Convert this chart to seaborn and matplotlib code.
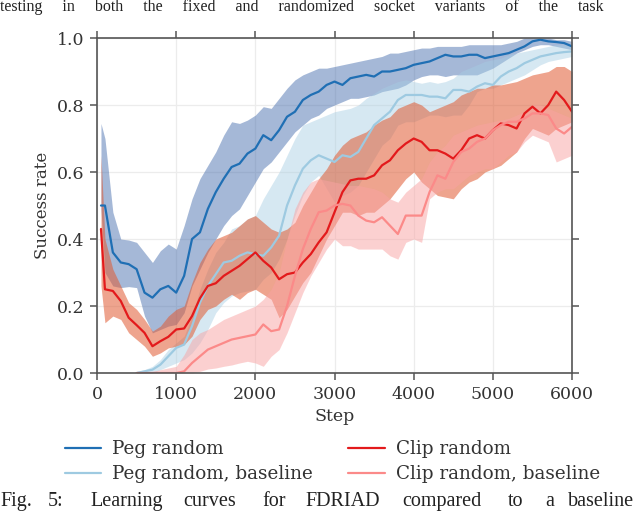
import matplotlib
matplotlib.use("Agg")
import matplotlib.pyplot as plt
import seaborn as sns
import numpy as np
import pandas as pd

nan = np.nan
steps = [50] + list(range(100, 6001, 100))

# Peg random
peg_mean = [0.50, 0.50, 0.36, 0.33, 0.325, 0.31, 0.24, 0.225, 0.25, 0.26, 0.24,
            0.29, 0.40, 0.42, 0.49, 0.54, 0.58, 0.615, 0.625, 0.655, 0.67,
            0.71, 0.695, 0.725, 0.765, 0.78, 0.815, 0.83, 0.84, 0.86, 0.87,
            0.86, 0.88, 0.885, 0.89, 0.885, 0.90, 0.90, 0.905, 0.91, 0.92,
            0.925, 0.93, 0.94, 0.95, 0.945, 0.945, 0.95, 0.95, 0.94, 0.945,
            0.95, 0.955, 0.965, 0.975, 0.99, 0.995, 0.99, 0.988, 0.985, 0.975]
peg_hi = [0.745, 0.70, 0.48, 0.40, 0.397, 0.39, 0.36, 0.33, 0.365, 0.385, 0.37,
          0.44, 0.52, 0.58, 0.62, 0.66, 0.71, 0.75, 0.745, 0.755, 0.77,
          0.795, 0.79, 0.82, 0.85, 0.875, 0.89, 0.90, 0.91, 0.91, 0.915,
          0.92, 0.925, 0.93, 0.935, 0.94, 0.945, 0.955, 0.955, 0.96, 0.965,
          0.97, 0.97, 0.975, 0.975, 0.975, 0.975, 0.98, 0.98, 0.98, 0.98,
          0.98, 0.985, 0.99, 1.0, 1.0, 1.0, 1.0, 0.995, 0.995, 0.99]
peg_lo = [0.49, 0.30, 0.26, 0.255, 0.258, 0.255, 0.17, 0.12, 0.13, 0.14, 0.145,
          0.18, 0.26, 0.31, 0.36, 0.40, 0.44, 0.47, 0.49, 0.53, 0.57,
          0.61, 0.63, 0.66, 0.69, 0.72, 0.74, 0.76, 0.77, 0.79, 0.80,
          0.81, 0.82, 0.82, 0.825, 0.83, 0.84, 0.845, 0.85, 0.86, 0.875,
          0.885, 0.89, 0.89, 0.885, 0.89, 0.89, 0.89, 0.89, 0.90, 0.91,
          0.925, 0.94, 0.955, 0.965, 0.975, 0.98, 0.98, 0.975, 0.97, 0.965]

# Peg random, baseline
pegb_mean = [nan, nan, nan, nan, nan, 0.0, 0.005, 0.01, 0.025, 0.05, 0.075,
             0.085, 0.14, 0.21, 0.26, 0.295, 0.33, 0.335, 0.35, 0.36, 0.355,
             0.35, 0.375, 0.41, 0.50, 0.56, 0.61, 0.635, 0.65, 0.64, 0.63,
             0.65, 0.645, 0.66, 0.70, 0.74, 0.76, 0.78, 0.815, 0.83, 0.83,
             0.83, 0.825, 0.825, 0.82, 0.845, 0.845, 0.84, 0.855, 0.865, 0.86,
             0.885, 0.90, 0.91, 0.925, 0.935, 0.945, 0.95, 0.955, 0.958, 0.96]
pegb_hi = [nan, nan, nan, nan, nan, 0.005, 0.01, 0.02, 0.04, 0.07, 0.09,
           0.11, 0.17, 0.25, 0.31, 0.36, 0.39, 0.43, 0.44, 0.46, 0.47,
           0.52, 0.56, 0.60, 0.65, 0.70, 0.74, 0.75, 0.76, 0.77, 0.78,
           0.785, 0.79, 0.80, 0.82, 0.835, 0.85, 0.86, 0.87, 0.875, 0.87,
           0.865, 0.87, 0.865, 0.87, 0.88, 0.90, 0.91, 0.92, 0.93, 0.935,
           0.94, 0.95, 0.955, 0.96, 0.965, 0.97, 0.975, 0.98, 0.98, 0.98]
pegb_lo = [nan, nan, nan, nan, nan, 0.0, 0.0, 0.0, 0.01, 0.02, 0.03,
           0.04, 0.06, 0.09, 0.13, 0.18, 0.21, 0.23, 0.24, 0.245, 0.25,
           0.28, 0.30, 0.34, 0.40, 0.47, 0.53, 0.57, 0.59, 0.55, 0.51,
           0.53, 0.54, 0.56, 0.60, 0.64, 0.68, 0.70, 0.74, 0.75, 0.75,
           0.76, 0.77, 0.77, 0.765, 0.77, 0.77, 0.80, 0.84, 0.85, 0.85,
           0.86, 0.87, 0.88, 0.89, 0.905, 0.92, 0.93, 0.935, 0.94, 0.945]

# Clip random
clip_mean = [0.43, 0.25, 0.245, 0.215, 0.165, 0.143, 0.12, 0.08, 0.095, 0.108, 0.13,
             0.133, 0.17, 0.223, 0.26, 0.268, 0.29, 0.305, 0.32, 0.34, 0.36,
             0.335, 0.315, 0.28, 0.295, 0.30, 0.33, 0.355, 0.39, 0.42, 0.48,
             0.54, 0.575, 0.58, 0.58, 0.59, 0.62, 0.635, 0.665, 0.685, 0.70,
             0.69, 0.665, 0.665, 0.655, 0.64, 0.665, 0.70, 0.71, 0.70, 0.725,
             0.745, 0.74, 0.73, 0.775, 0.795, 0.775, 0.80, 0.84, 0.815, 0.78]
clip_hi = [0.65, 0.40, 0.31, 0.26, 0.21, 0.19, 0.16, 0.125, 0.14, 0.17, 0.19,
           0.20, 0.27, 0.33, 0.37, 0.40, 0.41, 0.42, 0.44, 0.46, 0.47,
           0.45, 0.43, 0.42, 0.43, 0.45, 0.50, 0.54, 0.58, 0.61, 0.65,
           0.68, 0.70, 0.71, 0.72, 0.74, 0.755, 0.765, 0.79, 0.80, 0.81,
           0.80, 0.78, 0.79, 0.80, 0.81, 0.83, 0.84, 0.85, 0.85, 0.86,
           0.86, 0.865, 0.87, 0.88, 0.89, 0.895, 0.90, 0.915, 0.915, 0.90]
clip_lo = [0.26, 0.15, 0.17, 0.16, 0.12, 0.10, 0.08, 0.05, 0.06, 0.075, 0.08,
           0.085, 0.11, 0.16, 0.19, 0.20, 0.22, 0.235, 0.22, 0.24, 0.25,
           0.235, 0.22, 0.165, 0.19, 0.23, 0.27, 0.30, 0.35, 0.40, 0.44,
           0.48, 0.48, 0.47, 0.48, 0.48, 0.50, 0.52, 0.55, 0.58, 0.60,
           0.57, 0.55, 0.53, 0.525, 0.52, 0.55, 0.57, 0.58, 0.60, 0.61,
           0.62, 0.64, 0.66, 0.70, 0.73, 0.72, 0.71, 0.73, 0.74, 0.75]

# Clip random, baseline
clipb_mean = [nan, nan, nan, nan, nan, 0.0, 0.0, 0.0, 0.0, 0.0, 0.0,
              0.005, 0.03, 0.05, 0.07, 0.08, 0.09, 0.10, 0.105, 0.11, 0.115,
              0.145, 0.125, 0.13, 0.20, 0.29, 0.37, 0.43, 0.48, 0.485, 0.50,
              0.505, 0.50, 0.47, 0.455, 0.45, 0.465, 0.44, 0.415, 0.47, 0.47,
              0.47, 0.54, 0.59, 0.58, 0.63, 0.66, 0.67, 0.69, 0.70, 0.725,
              0.74, 0.75, 0.75, 0.76, 0.775, 0.775, 0.77, 0.73, 0.715, 0.735]
clipb_hi = [nan, nan, nan, nan, nan, 0.005, 0.005, 0.005, 0.01, 0.015, 0.02,
            0.055, 0.10, 0.12, 0.13, 0.145, 0.16, 0.17, 0.18, 0.19, 0.20,
            0.22, 0.25, 0.30, 0.40, 0.49, 0.54, 0.57, 0.58, 0.575, 0.57,
            0.565, 0.56, 0.56, 0.555, 0.55, 0.54, 0.52, 0.51, 0.54, 0.56,
            0.58, 0.63, 0.66, 0.68, 0.71, 0.72, 0.73, 0.74, 0.745, 0.75,
            0.755, 0.76, 0.77, 0.78, 0.80, 0.80, 0.79, 0.78, 0.77, 0.76]
clipb_lo = [nan, nan, nan, nan, nan, 0.0, 0.0, 0.0, 0.0, 0.0, 0.0,
            0.0, 0.0, 0.005, 0.012, 0.015, 0.02, 0.024, 0.03, 0.035, 0.03,
            0.02, 0.05, 0.07, 0.12, 0.18, 0.24, 0.29, 0.33, 0.37, 0.40,
            0.38, 0.38, 0.37, 0.37, 0.37, 0.37, 0.35, 0.34, 0.39, 0.40,
            0.39, 0.52, 0.54, 0.55, 0.55, 0.57, 0.59, 0.60, 0.61, 0.61,
            0.63, 0.65, 0.66, 0.69, 0.71, 0.70, 0.69, 0.63, 0.64, 0.65]

labels = ["Peg random", "Peg random, baseline", "Clip random", "Clip random, baseline"]
line_colors = ["#1f6fb4", "#9ecae1", "#e31a1c", "#fb8a89"]
band_colors = ["#4c72b0", "#a6cde3", "#e05a32", "#f9a3a3"]
band_alpha = [0.5, 0.45, 0.55, 0.5]

# caption fragments above and below the figure
top_words = ["testing", "in", "both", "the", "fixed", "and", "randomized",
             "socket", "variants", "of", "the", "task"]
bottom_words = ["Fig.", "5:", "Learning", "curves", "for", "FDRIAD",
                "compared", "to", "a", "baseline"]
bottom_x = [0, 48, 90, 183, 262, 305, 402, 508, 545, 568]

series = [(peg_mean, peg_lo, peg_hi), (pegb_mean, pegb_lo, pegb_hi),
          (clip_mean, clip_lo, clip_hi), (clipb_mean, clipb_lo, clipb_hi)]

sns.set_theme(style="whitegrid")
plt.rcParams['font.family'] = ['DejaVu Serif']

fig = plt.figure(figsize=(6.4, 5.11), dpi=100)
ax = fig.add_axes([0.1516, 0.270, 0.7422, 0.6556])

for (m, lo, hi), c, a in zip(series, band_colors, band_alpha):
    ax.fill_between(steps, np.array(lo, dtype=float), np.array(hi, dtype=float),
                    color=c, alpha=a, linewidth=0)

for (m, lo, hi), c, lab in zip(series, line_colors, labels):
    df = pd.DataFrame({"Step": steps, "Success rate": m}).dropna()
    sns.lineplot(data=df, x="Step", y="Success rate", color=c, label=lab,
                 linewidth=1.6, ax=ax)

ax.set_xlim(0, 6000)
ax.set_ylim(0, 1.0)
ax.set_xticks([0, 1000, 2000, 3000, 4000, 5000, 6000])
ax.set_yticks([0.0, 0.2, 0.4, 0.6, 0.8, 1.0])
ax.set_yticklabels(["0.0", "0.2", "0.4", "0.6", "0.8", "1.0"])
ax.grid(True, color="#ececec", linewidth=0.9)
for s in ax.spines.values():
    s.set_color("#555555")
    s.set_linewidth(1.2)
ax.tick_params(axis="both", which="both", direction="out", length=5, width=1.1,
               color="#555555", labelsize=12.5, labelcolor="#333333",
               top=True, right=True, bottom=True, left=True, pad=4)
ax.set_xlabel("Step", fontsize=12.5, color="#333333", labelpad=4)
ax.set_ylabel("Success rate", fontsize=12, color="#333333", labelpad=4)

ax.legend(loc="upper left", bbox_to_anchor=(-0.068, -0.2), ncol=2, frameon=False,
          fontsize=13.2, handlelength=2.0, handletextpad=0.6, columnspacing=1.9,
          labelspacing=0.38, borderpad=0, borderaxespad=0, labelcolor="#333333")

fig.text(0.0, 1.0 - 11 / 511, "     ".join(top_words),
         family="Liberation Serif", fontsize=11.5, color="#222222", va="baseline")
for w, x in zip(bottom_words, bottom_x):
    fig.text(x / 640, 1.0 - 506 / 511, w, family="Liberation Serif",
             fontsize=14.5, color="#222222", va="baseline")

fig.savefig("out.png", dpi=100)
